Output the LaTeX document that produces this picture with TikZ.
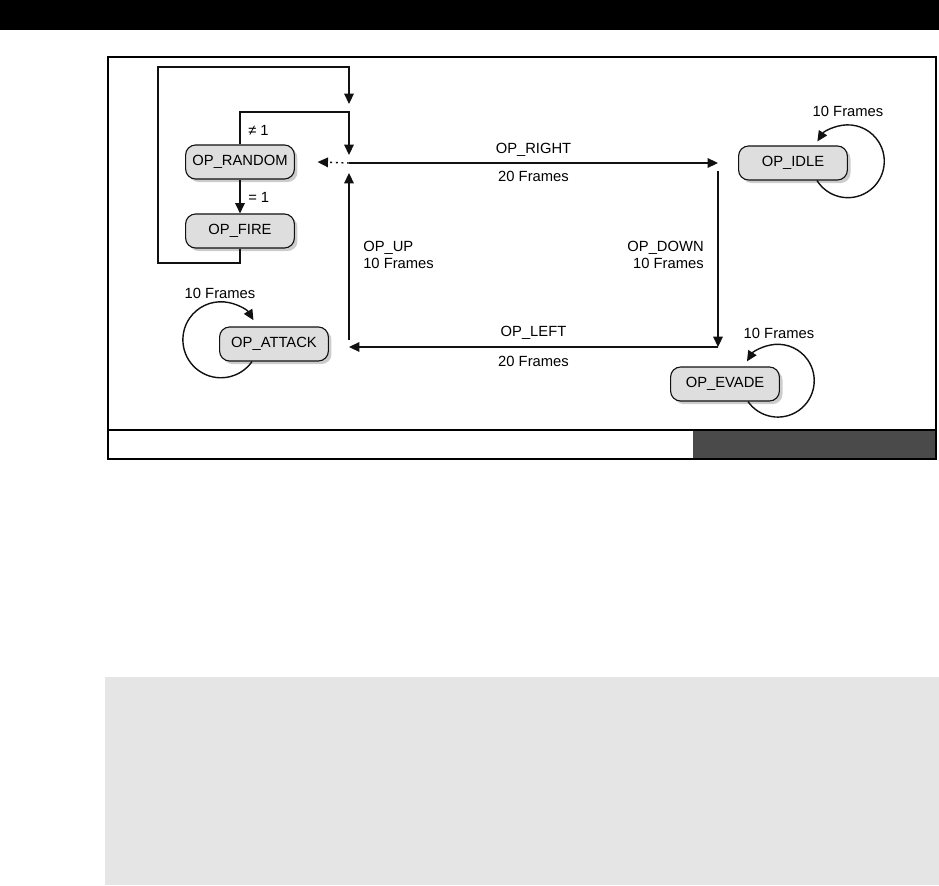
\documentclass[tikz,border=0pt]{standalone}
\usepackage{fontspec}
\setmainfont{Liberation Sans}
\usetikzlibrary{arrows.meta,positioning,calc,shadows}
\definecolor{statefill}{HTML}{DEDEDE}
\definecolor{stateshadow}{HTML}{9A9A9A}
\definecolor{wiregray}{HTML}{111111}
\definecolor{stripdark}{HTML}{4A4A4A}
\definecolor{panelgray}{HTML}{E5E5E5}
\tikzset{
  state/.style={rectangle, rounded corners=0.25cm, draw=wiregray, fill=statefill, minimum width=2.72cm, minimum height=0.85cm, line width=0.8pt, inner sep=0pt,
    drop shadow={shadow xshift=2.2pt, shadow yshift=-2.2pt, fill=stateshadow}},
  signal/.style={-{Triangle[length=2.6mm,width=2.4mm]}, draw=wiregray, line width=1pt},
  dotarrow/.style={signal, dash pattern=on 1.4pt off 2.6pt},
  line/.style={draw=wiregray, line width=1pt},
  frame/.style={draw=black, line width=0.8pt},
  lbl/.style={inner sep=0pt}
}

\begin{document}
\begin{tikzpicture}[font=\fontsize{10.5}{11.5}\selectfont]
  \useasboundingbox (0,0) rectangle (23.475,22.125);

  % page furniture
  \fill[black] (0,21.375) rectangle (23.475,22.125);
  \fill[stripdark] (17.325,10.65) rectangle (23.4,11.375);
  \draw[frame] (2.7,10.65) rectangle (23.4,20.7);
  \draw[frame] (2.7,11.375) -- (23.4,11.375);
  \fill[panelgray] (2.625,0) rectangle (23.475,5.2);

  % states
  \node[state] (RANDOM) at (6.0,18.075) {OP\_RANDOM};
  \node[state] (FIRE) at (6.0,16.35) {OP\_FIRE};
  \node[state] (IDLE) at (19.825,18.05) {OP\_IDLE};
  \node[state] (EVADE) at (18.125,12.525) {OP\_EVADE};
  \node[state] (ATTACK) at (6.85,13.525) {OP\_ATTACK};

  % corners of the patrol loop
  \coordinate (jTL) at (8.725,18.05);
  \coordinate (jTR) at (17.95,18.05);
  \coordinate (jBR) at (17.95,13.45);
  \coordinate (jBL) at (8.725,13.45);
  \coordinate (rTop) at (8.725,19.325);
  \coordinate (fLow) at (3.95,15.55);
  \coordinate (fTop) at (8.725,20.45);

  \draw[signal] (jTL) -- (jTR)
    node[lbl, midway, yshift=0.33cm] (rightLbl) {OP\_RIGHT}
    node[lbl, midway, yshift=-0.34cm] (rightFr) {20 Frames};
  \draw[signal] ([yshift=-0.2cm]jTR) -- (jBR);
  \draw[signal] (jBR) -- (jBL)
    node[lbl, midway, yshift=0.36cm] (leftLbl) {OP\_LEFT}
    node[lbl, midway, yshift=-0.35cm] (leftFr) {20 Frames};
  \draw[signal] ([yshift=0.175cm]jBL) -- ([yshift=-0.25cm]jTL);
  \draw[dotarrow] (jTL) -- ([xshift=0.565cm]RANDOM.east);

  \node[lbl, anchor=west, align=left] (upLbl) at (9.075,15.75) {OP\_UP\\10 Frames};
  \node[lbl, anchor=east, align=right] (downLbl) at (17.6,15.75) {OP\_DOWN\\10 Frames};

  % random choice
  \draw[signal] (RANDOM) -- (FIRE);
  \node[lbl, anchor=west] (eqLbl) at (6.2,17.2) {= 1};
  \draw[signal] (RANDOM.north) |- (rTop) -- ([yshift=0.2cm]jTL);
  \node[lbl, anchor=west] (neLbl) at (6.2,18.875) {≠ 1};
  \draw[signal] (FIRE.south) |- (fLow) |- (fTop) -- ([yshift=0.2cm]rTop);

  % self loops
  \draw[signal] ([xshift=0.6cm]IDLE.south) arc[start angle=212, end angle=507, radius=0.91cm];
  \node[lbl] (idleFr) at (21.2,19.35) {10 Frames};
  \draw[signal] ([xshift=0.575cm]EVADE.south) arc[start angle=215, end angle=508, radius=0.91cm];
  \node[lbl] (evadeFr) at (19.475,13.8) {10 Frames};
  \draw[signal] ([xshift=-0.55cm]ATTACK.south) arc[start angle=325, end angle=31, radius=0.95cm];
  \node[lbl] (attackFr) at (5.5,14.8) {10 Frames};
\end{tikzpicture}
\end{document}
